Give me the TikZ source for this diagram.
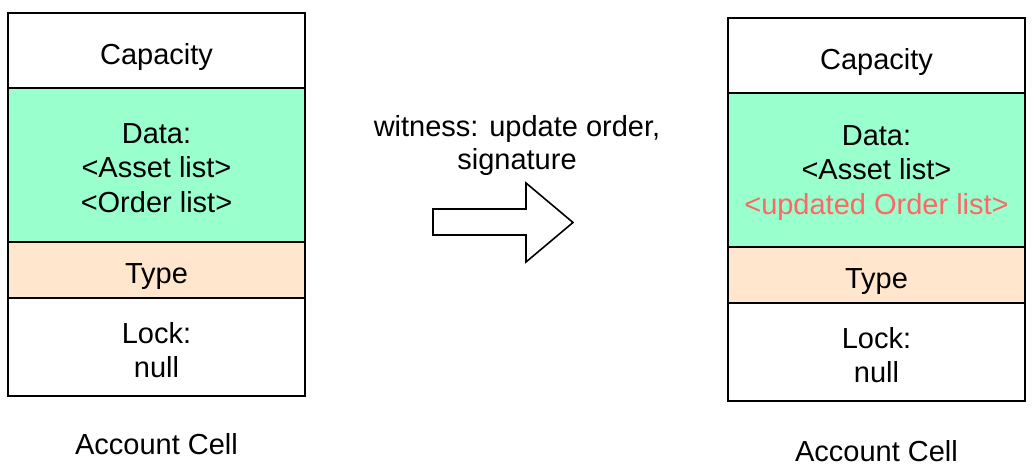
\documentclass[tikz,border=0pt]{standalone}
\usepackage{fontspec}
\setmainfont{Liberation Sans}
\usetikzlibrary{positioning}
\definecolor{cgreen}{HTML}{99FFCC}
\definecolor{cpeach}{HTML}{FFE6CC}
\definecolor{cred}{HTML}{FF6666}

\begin{document}
\begin{tikzpicture}[
    x=1pt, y=-1pt,
    cellrow/.style={draw, line width=1.6pt, fill=white, minimum width=297pt, inner sep=0pt, outer sep=0pt, anchor=north},
    celltext/.style={align=center, yshift=-3pt, font=\fontsize{29}{34.5}\selectfont},
    caption/.style={align=center, font=\fontsize{29}{33}\selectfont},
    blockarrow/.style={draw, line width=1.6pt, fill=white, line join=miter}
]
\useasboundingbox (0,0) rectangle (1034,472);
% cell before
\node[cellrow, minimum height=75pt, label={[celltext, yshift=-3pt]center:Capacity}] (c1) at (156.5,13) {};
\node[cellrow, minimum height=154pt, fill=cgreen, label={[celltext]center:Data:\\<Asset list>\\<Order list>}] (d1) at (c1.south) {};
\node[cellrow, minimum height=56pt, fill=cpeach, label={[celltext, yshift=-4pt]center:Type}] (t1) at (d1.south) {};
\node[cellrow, minimum height=98pt, label={[celltext]center:Lock:\\null}] (l1) at (t1.south) {};
\node[caption] (n1) at (156.5,444) {Account Cell};
% cell after
\node[cellrow, minimum height=75pt, label={[celltext, yshift=-3pt]center:Capacity}] (c2) at (876.5,18) {};
\node[cellrow, minimum height=154pt, fill=cgreen, label={[celltext]center:Data:\\<Asset list>\\\textcolor{cred}{<updated Order list>}}] (d2) at (c2.south) {};
\node[cellrow, minimum height=56pt, fill=cpeach, label={[celltext, yshift=-4pt]center:Type}] (t2) at (d2.south) {};
\node[cellrow, minimum height=98pt, label={[celltext]center:Lock:\\null}] (l2) at (t2.south) {};
\node[caption] (n2) at (876.5,451) {Account Cell};
% transition
\node[caption] (w) at (517,145) {witness: update order,\\signature};
\draw[blockarrow] (433,209) -- (526,209) -- (526,183) -- (573,222.5) -- (526,262) -- (526,235) -- (433,235) -- cycle;
\end{tikzpicture}
\end{document}
